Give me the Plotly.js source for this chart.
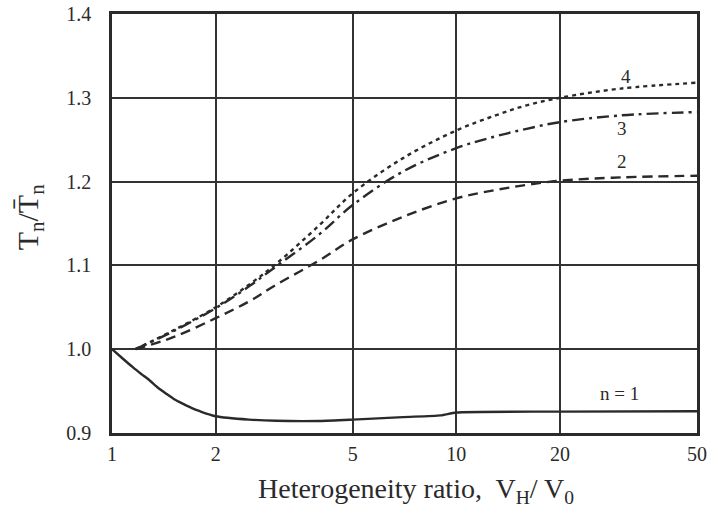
<!DOCTYPE html>
<html>
<head>
<meta charset="utf-8">
<script src="https://cdn.plot.ly/plotly-3.0.1.min.js"></script>
<style>
  html, body { margin: 0; padding: 0; background: #fff; }
  #chart { width: 710px; height: 508px; }
</style>
</head>
<body>
<div id="chart"></div>
<script>
// Heterogeneity ratio (log axis) and normalized period curves for modes n = 1..4
const ratioUpper = [1.17, 1.5, 2, 2.5, 3, 4, 5, 7, 10, 13, 16, 20, 30, 50];
const mode2 = [1.0, 1.014, 1.037, 1.057, 1.077, 1.106, 1.131, 1.158, 1.180, 1.190, 1.196, 1.201, 1.205, 1.207];
const mode3 = [1.0, 1.021, 1.049, 1.075, 1.099, 1.137, 1.172, 1.212, 1.240, 1.254, 1.263, 1.271, 1.279, 1.283];
const mode4 = [1.0, 1.022, 1.050, 1.077, 1.102, 1.148, 1.186, 1.228, 1.261, 1.279, 1.291, 1.300, 1.311, 1.318];

const ratioMode1 = [1, 1.08, 1.153, 1.22, 1.289, 1.36, 1.44, 1.52, 1.61, 1.7, 1.8, 2, 2.5, 3, 4, 5, 7, 9, 10, 20, 50];
const mode1 = [1.0, 0.988, 0.978, 0.970, 0.9624, 0.954, 0.9466, 0.940, 0.9347, 0.930, 0.926, 0.920, 0.916, 0.9146, 0.9144, 0.916, 0.919, 0.921, 0.9245, 0.9255, 0.926];

const xTicks = [1, 2, 5, 10, 20, 50];
const xTickText = ['1', '2', '5', '10', '20', '50'];
const yTicks = [0.9, 1.0, 1.1, 1.2, 1.3, 1.4];
const yTickText = ['0.9', '1.0', '1.1', '1.2', '1.3', '1.4'];

// curve labels: [text, x, y]
const curveLabels = [
  ['4', 31.0, 1.325],
  ['3', 30.2, 1.263],
  ['2', 30.2, 1.224],
  ['n = 1', 29.7, 0.947]
];

const ink = '#2a2a2a';
const serif = 'Liberation Serif';

const traces = [
  { x: ratioMode1, y: mode1, mode: 'lines', line: { color: ink, width: 2.4, shape: 'spline', smoothing: 0.6 } },
  { x: ratioUpper, y: mode2, mode: 'lines', line: { color: ink, width: 2.4, dash: '10px,6px', shape: 'spline', smoothing: 1 } },
  { x: ratioUpper, y: mode3, mode: 'lines', line: { color: ink, width: 2.4, dash: '12px,5px,3px,5px', shape: 'spline', smoothing: 1 } },
  { x: ratioUpper, y: mode4, mode: 'lines', line: { color: ink, width: 2.4, dash: '4px,4px', shape: 'spline', smoothing: 1 } }
];

const annotations = curveLabels.map(([t, x, y]) => ({
  text: t, x: Math.log10(x), y: y, xref: 'x', yref: 'y',
  showarrow: false, font: { family: serif, size: 19, color: ink }
}));

annotations.push({
  text: 'Heterogeneity ratio,  V<sub>H</sub>/ V<sub>0</sub>',
  xref: 'paper', yref: 'paper', x: 0.52, y: -0.138,
  xanchor: 'center', yanchor: 'middle', showarrow: false,
  font: { family: serif, size: 28, color: ink }
});
annotations.push({
  text: 'T<sub>n</sub>/T\u0304<sub>n</sub>',
  xref: 'paper', yref: 'paper', x: -0.14, y: 0.515,
  xanchor: 'center', yanchor: 'middle', textangle: -90, showarrow: false,
  font: { family: serif, size: 30, color: ink }
});

const layout = {
  width: 710, height: 508,
  margin: { l: 112, r: 12.5, t: 13.5, b: 75, pad: 0 },
  paper_bgcolor: '#fff', plot_bgcolor: '#fff',
  showlegend: false,
  xaxis: {
    type: 'log', range: [0, Math.log10(50)],
    tickvals: xTicks, ticktext: xTickText,
    ticks: 'outside', ticklen: 1, tickcolor: 'rgba(0,0,0,0)',
    showgrid: true, gridcolor: '#333', gridwidth: 1.8,
    showline: true, linecolor: ink, linewidth: 2.8, mirror: true,
    zeroline: false,
    tickfont: { family: serif, size: 20, color: ink }
  },
  yaxis: {
    range: [0.9, 1.4],
    tickvals: yTicks, ticktext: yTickText,
    ticks: 'outside', ticklen: 14, tickcolor: 'rgba(0,0,0,0)',
    showgrid: true, gridcolor: '#333', gridwidth: 1.8,
    showline: true, linecolor: ink, linewidth: 2.8, mirror: true,
    zeroline: false,
    tickfont: { family: serif, size: 20, color: ink }
  },
  annotations: annotations
};

Plotly.newPlot('chart', traces, layout, { displayModeBar: false, staticPlot: true });
</script>
</body>
</html>
